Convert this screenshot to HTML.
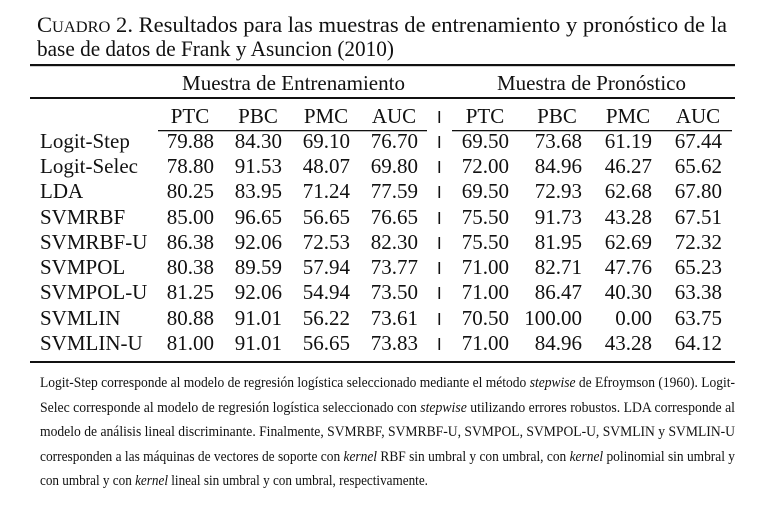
<!DOCTYPE html>
<html><head><meta charset="utf-8"><style>
html,body{margin:0;padding:0;background:#fff;}
svg{display:block;}
text{font-family:"Liberation Serif",serif;fill:#111;}
</style></head><body>
<svg width="784" height="517" viewBox="0 0 784 517" xmlns="http://www.w3.org/2000/svg">
<text x="37" y="32" font-size="22" textLength="690" lengthAdjust="spacingAndGlyphs">C<tspan font-size="16">UADRO</tspan> 2.  Resultados para las muestras de entrenamiento y pronóstico de la</text>
<text x="37" y="56" font-size="22" textLength="357" lengthAdjust="spacingAndGlyphs">base de datos de Frank y Asuncion (2010)</text>
<rect x="30" y="64" width="705" height="2.2" fill="#111"/>
<text x="182" y="90" font-size="21" textLength="223" lengthAdjust="spacingAndGlyphs">Muestra de Entrenamiento</text>
<text x="497" y="90" font-size="21" textLength="189" lengthAdjust="spacingAndGlyphs">Muestra de Pronóstico</text>
<rect x="30" y="97" width="705" height="2" fill="#111"/>
<g font-size="21" text-anchor="middle">
<text x="190" y="123">PTC</text><text x="258" y="123">PBC</text><text x="326" y="123">PMC</text><text x="394" y="123">AUC</text>
<text x="485" y="123">PTC</text><text x="557" y="123">PBC</text><text x="628" y="123">PMC</text><text x="698" y="123">AUC</text>
</g>
<rect x="158" y="130" width="269" height="1.3" fill="#111"/>
<rect x="452" y="130" width="280" height="1.3" fill="#111"/>
<g font-size="21">
<text x="40" y="148">Logit-Step</text>
<text x="40" y="173">Logit-Selec</text>
<text x="40" y="198">LDA</text>
<text x="40" y="224">SVMRBF</text>
<text x="40" y="249">SVMRBF-U</text>
<text x="40" y="274">SVMPOL</text>
<text x="40" y="299">SVMPOL-U</text>
<text x="40" y="325">SVMLIN</text>
<text x="40" y="350">SVMLIN-U</text>
</g>
<g font-size="21" text-anchor="end">
<text y="148"><tspan x="214">79.88</tspan><tspan x="282">84.30</tspan><tspan x="350">69.10</tspan><tspan x="418">76.70</tspan><tspan x="509">69.50</tspan><tspan x="582">73.68</tspan><tspan x="652">61.19</tspan><tspan x="722">67.44</tspan></text>
<text y="173"><tspan x="214">78.80</tspan><tspan x="282">91.53</tspan><tspan x="350">48.07</tspan><tspan x="418">69.80</tspan><tspan x="509">72.00</tspan><tspan x="582">84.96</tspan><tspan x="652">46.27</tspan><tspan x="722">65.62</tspan></text>
<text y="198"><tspan x="214">80.25</tspan><tspan x="282">83.95</tspan><tspan x="350">71.24</tspan><tspan x="418">77.59</tspan><tspan x="509">69.50</tspan><tspan x="582">72.93</tspan><tspan x="652">62.68</tspan><tspan x="722">67.80</tspan></text>
<text y="224"><tspan x="214">85.00</tspan><tspan x="282">96.65</tspan><tspan x="350">56.65</tspan><tspan x="418">76.65</tspan><tspan x="509">75.50</tspan><tspan x="582">91.73</tspan><tspan x="652">43.28</tspan><tspan x="722">67.51</tspan></text>
<text y="249"><tspan x="214">86.38</tspan><tspan x="282">92.06</tspan><tspan x="350">72.53</tspan><tspan x="418">82.30</tspan><tspan x="509">75.50</tspan><tspan x="582">81.95</tspan><tspan x="652">62.69</tspan><tspan x="722">72.32</tspan></text>
<text y="274"><tspan x="214">80.38</tspan><tspan x="282">89.59</tspan><tspan x="350">57.94</tspan><tspan x="418">73.77</tspan><tspan x="509">71.00</tspan><tspan x="582">82.71</tspan><tspan x="652">47.76</tspan><tspan x="722">65.23</tspan></text>
<text y="299"><tspan x="214">81.25</tspan><tspan x="282">92.06</tspan><tspan x="350">54.94</tspan><tspan x="418">73.50</tspan><tspan x="509">71.00</tspan><tspan x="582">86.47</tspan><tspan x="652">40.30</tspan><tspan x="722">63.38</tspan></text>
<text y="325"><tspan x="214">80.88</tspan><tspan x="282">91.01</tspan><tspan x="350">56.22</tspan><tspan x="418">73.61</tspan><tspan x="509">70.50</tspan><tspan x="582">100.00</tspan><tspan x="652">0.00</tspan><tspan x="722">63.75</tspan></text>
<text y="350"><tspan x="214">81.00</tspan><tspan x="282">91.01</tspan><tspan x="350">56.65</tspan><tspan x="418">73.83</tspan><tspan x="509">71.00</tspan><tspan x="582">84.96</tspan><tspan x="652">43.28</tspan><tspan x="722">64.12</tspan></text>
</g>
<g fill="#111">
<rect x="438.5" y="111" width="1.6" height="12"/>
<rect x="438.5" y="136" width="1.6" height="12"/>
<rect x="438.5" y="161" width="1.6" height="12"/>
<rect x="438.5" y="186" width="1.6" height="12"/>
<rect x="438.5" y="212" width="1.6" height="12"/>
<rect x="438.5" y="237" width="1.6" height="12"/>
<rect x="438.5" y="262" width="1.6" height="12"/>
<rect x="438.5" y="287" width="1.6" height="12"/>
<rect x="438.5" y="313" width="1.6" height="12"/>
<rect x="438.5" y="338" width="1.6" height="12"/>
</g>
<rect x="30" y="361" width="705" height="2" fill="#111"/>
<g font-size="14.5">
<text x="40" y="387" textLength="695" lengthAdjust="spacingAndGlyphs">Logit-Step corresponde al modelo de regresión logística seleccionado mediante el método <tspan font-style="italic">stepwise</tspan> de Efroymson (1960). Logit-</text>
<text x="40" y="412" textLength="695" lengthAdjust="spacingAndGlyphs">Selec corresponde al modelo de regresión logística seleccionado con <tspan font-style="italic">stepwise</tspan> utilizando errores robustos. LDA corresponde al</text>
<text x="40" y="436" textLength="695" lengthAdjust="spacingAndGlyphs">modelo de análisis lineal discriminante. Finalmente, SVMRBF, SVMRBF-U, SVMPOL, SVMPOL-U, SVMLIN y SVMLIN-U</text>
<text x="40" y="461" textLength="695" lengthAdjust="spacingAndGlyphs">corresponden a las máquinas de vectores de soporte con <tspan font-style="italic">kernel</tspan> RBF sin umbral y con umbral, con <tspan font-style="italic">kernel</tspan> polinomial sin umbral y</text>
<text x="40" y="485" textLength="388" lengthAdjust="spacingAndGlyphs">con umbral y con <tspan font-style="italic">kernel</tspan> lineal sin umbral y con umbral, respectivamente.</text>
</g>
</svg>
</body></html>
